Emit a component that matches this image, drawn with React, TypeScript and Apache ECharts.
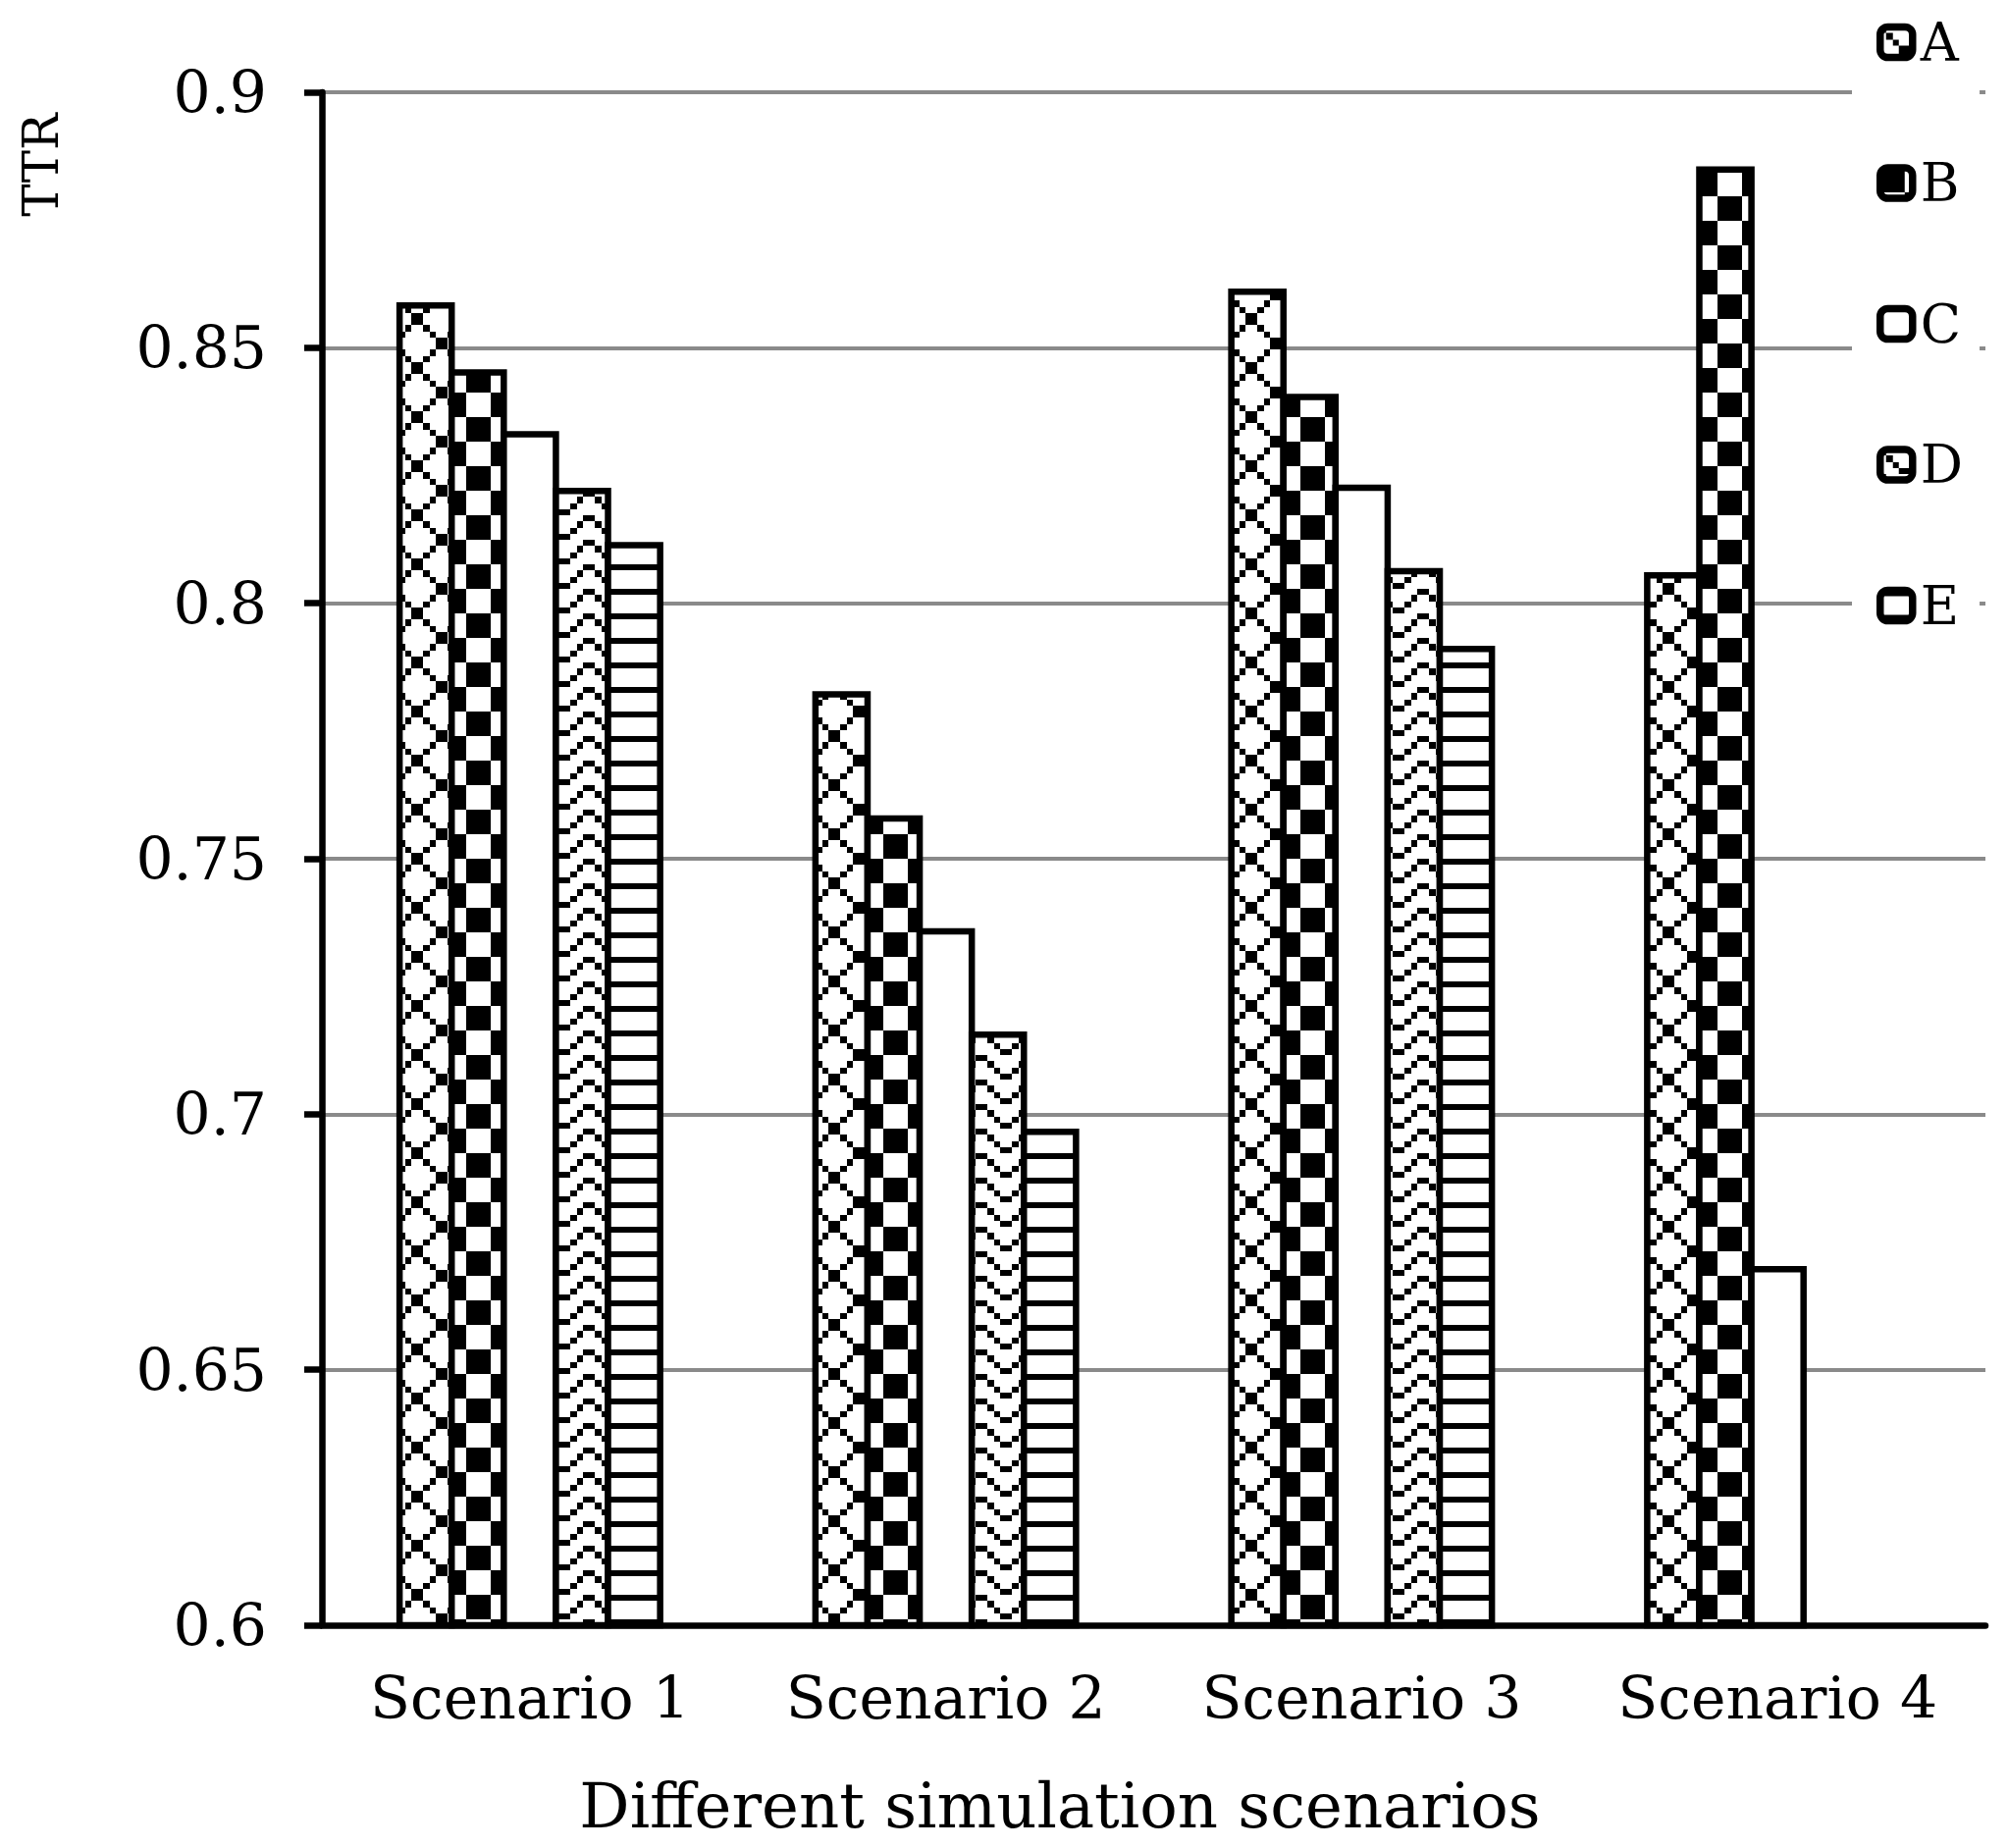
import React, { useEffect, useRef } from "react";
import * as echarts from "echarts";

const categories = ["Scenario 1", "Scenario 2", "Scenario 3", "Scenario 4"];
const seriesNames = ["A", "B", "C", "D", "E"];
const valuesA = [0.8589, 0.7828, 0.8616, 0.8061];
const valuesB = [0.8458, 0.7585, 0.841, 0.8855];
const valuesC = [0.8337, 0.7364, 0.8232, 0.6703];
const valuesD = [0.8226, 0.7162, 0.8069, null];
const valuesE = [0.812, 0.6972, 0.7917, null];
const yMin = 0.6;
const yMax = 0.9;
const yStep = 0.05;
const xAxisTitle = "Different simulation scenarios";
const yAxisTitle = "TTR";

// 8x8 fill bitmaps, like the old office pattern fills
const bitmapA = ["X......X", ".X....X.", "..X..X..", "...XX...", "...XX...", "..X..X..", ".X....X.", "X......X"];
const bitmapB = ["XXXX....", "XXXX....", "XXXX....", "XXXX....", "....XXXX", "....XXXX", "....XXXX", "....XXXX"];
const bitmapD = ["X......X", ".X....X.", "..X..X..", "...XX...", "X......X", ".X....X.", "..X..X..", "...XX..."];
const bitmapE = ["XXXXXXXX", "........", "........", "........", "XXXXXXXX", "........", "........", "........"];

const FONT = '"DejaVu Serif", "Liberation Serif", serif';
const BORDER = 6.5;
const BAR_W = 59.6;

const makePattern = (rows: string[]) => {
  const size = 50;
  const canvas = document.createElement("canvas");
  canvas.width = size;
  canvas.height = size;
  const ctx = canvas.getContext("2d")!;
  ctx.fillStyle = "#fff";
  ctx.fillRect(0, 0, size, size);
  ctx.fillStyle = "#000";
  const edge = (i: number) => Math.round((i * size) / 8);
  rows.forEach((row, y) => {
    for (let x = 0; x < 8; x++) {
      if (row[x] === "X") {
        ctx.fillRect(edge(x), edge(y), edge(x + 1) - edge(x), edge(y + 1) - edge(y));
      }
    }
  });
  return { image: canvas, repeat: "repeat", imageWidth: size, imageHeight: size };
};

const App: React.FC = () => {
  const chartRef = useRef<HTMLDivElement>(null);

  useEffect(() => {
    if (!chartRef.current) return;
    const chart = echarts.init(chartRef.current, null, { renderer: "svg" });

    const fills: any[] = [
      makePattern(bitmapA),
      makePattern(bitmapB),
      "#fff",
      makePattern(bitmapD),
      makePattern(bitmapE),
    ];
    const allValues = [valuesA, valuesB, valuesC, valuesD, valuesE];

    chart.setOption({
      animation: false,
      backgroundColor: "#fff",
      textStyle: { fontFamily: FONT, color: "#000" },
      grid: { left: 328, right: 23, top: 94, bottom: 227, containLabel: false },
      legend: {
        orient: "vertical",
        left: 1887,
        top: 5,
        padding: [10, 17, 10, 25],
        backgroundColor: "#fff",
        itemWidth: 33,
        itemHeight: 31,
        itemGap: 87.5,
        selectedMode: false,
        data: seriesNames,
        itemStyle: { borderColor: "#000", borderWidth: 7.5 },
        textStyle: {
          fontFamily: FONT,
          fontSize: 54,
          lineHeight: 56,
          color: "#000",
          padding: [0, 0, 0, 3],
        },
      },
      xAxis: {
        type: "category",
        data: categories,
        axisLine: { lineStyle: { color: "#000", width: BORDER } },
        axisTick: { show: false },
        axisLabel: { fontFamily: FONT, fontSize: 60, color: "#000", margin: 44 },
      },
      yAxis: {
        type: "value",
        min: yMin,
        max: yMax,
        interval: yStep,
        axisLine: { show: true, lineStyle: { color: "#000", width: BORDER } },
        axisTick: { show: true, length: 18, lineStyle: { color: "#000", width: BORDER } },
        axisLabel: { fontFamily: FONT, fontSize: 60, color: "#000", margin: 56 },
        splitLine: { show: true, lineStyle: { color: "#8a8a8a", width: 4 } },
      },
      graphic: [
        {
          type: "text",
          x: 1080,
          y: 1840,
          style: {
            text: xAxisTitle,
            fontFamily: FONT,
            fontSize: 64,
            fill: "#000",
            align: "center",
            textAlign: "center",
            verticalAlign: "middle",
            textVerticalAlign: "middle",
          },
        },
        {
          type: "text",
          x: 42,
          y: 168,
          rotation: Math.PI / 2,
          style: {
            text: yAxisTitle,
            fontFamily: FONT,
            fontSize: 50,
            fill: "#000",
            align: "center",
            textAlign: "center",
            verticalAlign: "middle",
            textVerticalAlign: "middle",
          },
        },
      ],
      series: seriesNames.map((name, i) => ({
        name,
        type: "bar",
        data: allValues[i],
        barWidth: BAR_W,
        barGap: `${(-BORDER / BAR_W) * 100}%`,
        itemStyle: { color: fills[i], borderColor: "#000", borderWidth: BORDER },
        emphasis: { disabled: true },
      })),
    });

    return () => {
      chart.dispose();
    };
  }, []);

  return (
    <div
      ref={chartRef}
      style={{ position: "fixed", left: 0, top: 0, width: "2046px", height: "1883px" }}
    />
  );
};

export default App;
